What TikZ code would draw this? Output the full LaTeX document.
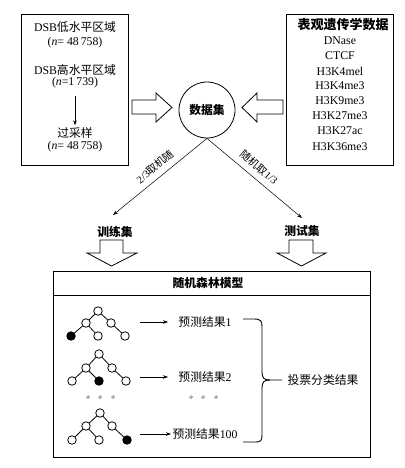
\documentclass[tikz,border=0pt]{standalone}
\usepackage{fontspec}
\setmainfont{Liberation Serif}
\newfontfamily\cjk{Noto Sans CJK SC}
\usetikzlibrary{arrows.meta}
\newcommand\zh[1]{{\cjk #1}}
\begin{document}
\begin{tikzpicture}[x=1pt,y=-1pt,
  txt/.style={inner sep=1pt,font=\fontsize{11.8}{13}\selectfont},
  rtxt/.style={inner sep=0.5pt,font=\fontsize{10.5}{12}\selectfont},
  boxn/.style={draw,line width=0.9pt,inner sep=0},
  tn/.style={circle,draw,line width=0.8pt,minimum size=8.5pt,inner sep=0},
  tf/.style={tn,fill=black},
  te/.style={line width=0.8pt},
  arr/.style={-{Stealth[length=5pt,width=3.5pt]},line width=0.5pt},
  blk/.style={draw,line width=0.8pt,fill=white},
  dotc/.style={draw=black!60,line width=0.5pt}]
\useasboundingbox (0,0) rectangle (404,468);
% left box
\node[boxn,minimum width=107pt,minimum height=151pt] (lbox) at (74.5,89.5) {};
\node[txt] (l1) at (75,27) {DSB\zh{低水平区域}};
\node[txt] (l2) at (75,43) {(\textit{n}= 48\,758)};
\node[txt] (l3) at (75,70) {DSB\zh{高水平区域}};
\node[txt] (l4) at (75,83) {(\textit{n}=1\,739)};
\node[txt] (l5) at (75,133) {\zh{过采样}};
\node[txt] (l6) at (75,147) {(\textit{n}= 48\,758)};
\draw[arr,shorten <=6pt,shorten >=1pt] (l4.south) -- (l5.north);
% right box
\node[boxn,minimum width=107pt,minimum height=151pt] (rbox) at (339.5,89.5) {};
\node[txt,font=\fontsize{13}{14}\selectfont] (r0) at (343,25) {\zh{\bfseries 表观遗传学数据}};
\node[txt] (r1) at (340,41) {DNase};
\node[txt] (r2) at (340,56) {CTCF};
\node[txt] (r3) at (340,71) {H3K4mel};
\node[txt] (r4) at (340,86) {H3K4me3};
\node[txt] (r5) at (340,101) {H3K9me3};
\node[txt] (r6) at (340,116) {H3K27me3};
\node[txt] (r7) at (340,131) {H3K27ac};
\node[txt] (r8) at (340,147) {H3K36me3};
% dataset circle
\node[circle,draw,line width=0.8pt,minimum size=56pt,inner sep=0,font=\fontsize{11.8}{13}\selectfont] (ds) at (207,110) {\zh{\bfseries 数据集}};
% block arrows into circle
\draw[blk] (132,100) -- (156,100) -- (156,93) -- (172,107.5) -- (156,122) -- (156,114) -- (132,114) -- cycle;
\draw[blk] (283,100) -- (257,100) -- (257,93) -- (242,107.5) -- (257,122) -- (257,114) -- (283,114) -- cycle;
% split
\coordinate (tl) at (113,215);
\coordinate (tr) at (302,218);
\draw[arr] (ds.south) -- (tl);
\draw[arr] (ds.south) -- (tr);
\node[rtxt,rotate=39.3] (sl) at (155.2,166.8) {2/3\zh{取机随}};
\node[rtxt,rotate=-40] (sr) at (259.3,167.3) {\zh{随机取}1/3};
\node[txt] (trn) at (115,232) {\zh{\bfseries 训练集}};
\node[txt] (tst) at (302,231) {\zh{\bfseries 测试集}};
% down block arrows
\draw[blk] (100,240) -- (123,240) -- (123,253) -- (137,253) -- (111.5,266) -- (87,253) -- (100,253) -- cycle;
\draw[blk] (289,240) -- (313,240) -- (313,253) -- (326,253) -- (301.5,266) -- (277,253) -- (289,253) -- cycle;
% bottom box
\node[boxn,minimum width=317pt,minimum height=186pt] (bbox) at (211.5,364) {};
\draw[line width=0.9pt] (bbox.west |- 0,295) -- (bbox.east |- 0,295);
\node[txt] (rf) at (208,283) {\zh{\bfseries 随机森林模型}};
% tree 1
\node[tn] (a1) at (98,311) {};
\node[tn] (a2) at (86,323) {};
\node[tn] (a3) at (111,323) {};
\node[tf] (a4) at (71,336) {};
\node[tn] (a5) at (98,336) {};
\node[tn] (a6) at (125,336) {};
\draw[te] (a1) -- (a2) (a1) -- (a3) (a2) -- (a4) (a2) -- (a5) (a3) -- (a6);
% tree 2
\node[tn] (b1) at (99,354) {};
\node[tn] (b2) at (86,368) {};
\node[tn] (b3) at (112,368) {};
\node[tn] (b4) at (72,381) {};
\node[tf] (b5) at (99,381) {};
\node[tn] (b6) at (126,381) {};
\draw[te] (b1) -- (b2) (b1) -- (b3) (b2) -- (b4) (b2) -- (b5) (b3) -- (b6);
% tree 3
\node[tn] (c1) at (100,413) {};
\node[tn] (c2) at (86,426) {};
\node[tn] (c3) at (112,426) {};
\node[tn] (c4) at (72,440) {};
\node[tn] (c5) at (99,440) {};
\node[tf] (c6) at (127,440) {};
\draw[te] (c1) -- (c2) (c1) -- (c3) (c2) -- (c4) (c2) -- (c5) (c3) -- (c6);
% predictions
\node[txt] (p1) at (205,322) {\zh{预测结果}1};
\node[txt] (p2) at (205,377) {\zh{预测结果}2};
\node[txt] (p3) at (205,434) {\zh{预测结果}100};
\coordinate (s1) at (140,322); \coordinate (e1) at (168,322);
\coordinate (s2) at (140,377); \coordinate (e2) at (168,377);
\coordinate (s3) at (140,434); \coordinate (e3) at (171,434);
\draw[arr] (s1) -- (e1);
\draw[arr] (s2) -- (e2);
\draw[arr] (s3) -- (e3);
% dots
\foreach \x in {88,100,113,191,203,216} \draw[dotc] (\x,397) circle[radius=1.4pt];
% brace
\draw[line width=0.9pt] (243,319) -- (254,319) .. controls (261,319) and (262,321) .. (262,327) -- (262,372) .. controls (262,378) and (264,380) .. (270,380) -- (282,380);
\draw[line width=0.9pt] (270,380) .. controls (264,380) and (262,382) .. (262,388) -- (262,435) .. controls (262,441) and (261,442) .. (254,442) -- (243,442);
\node[txt] (vote) at (323,380) {\zh{投票分类结果}};
\end{tikzpicture}
\end{document}
